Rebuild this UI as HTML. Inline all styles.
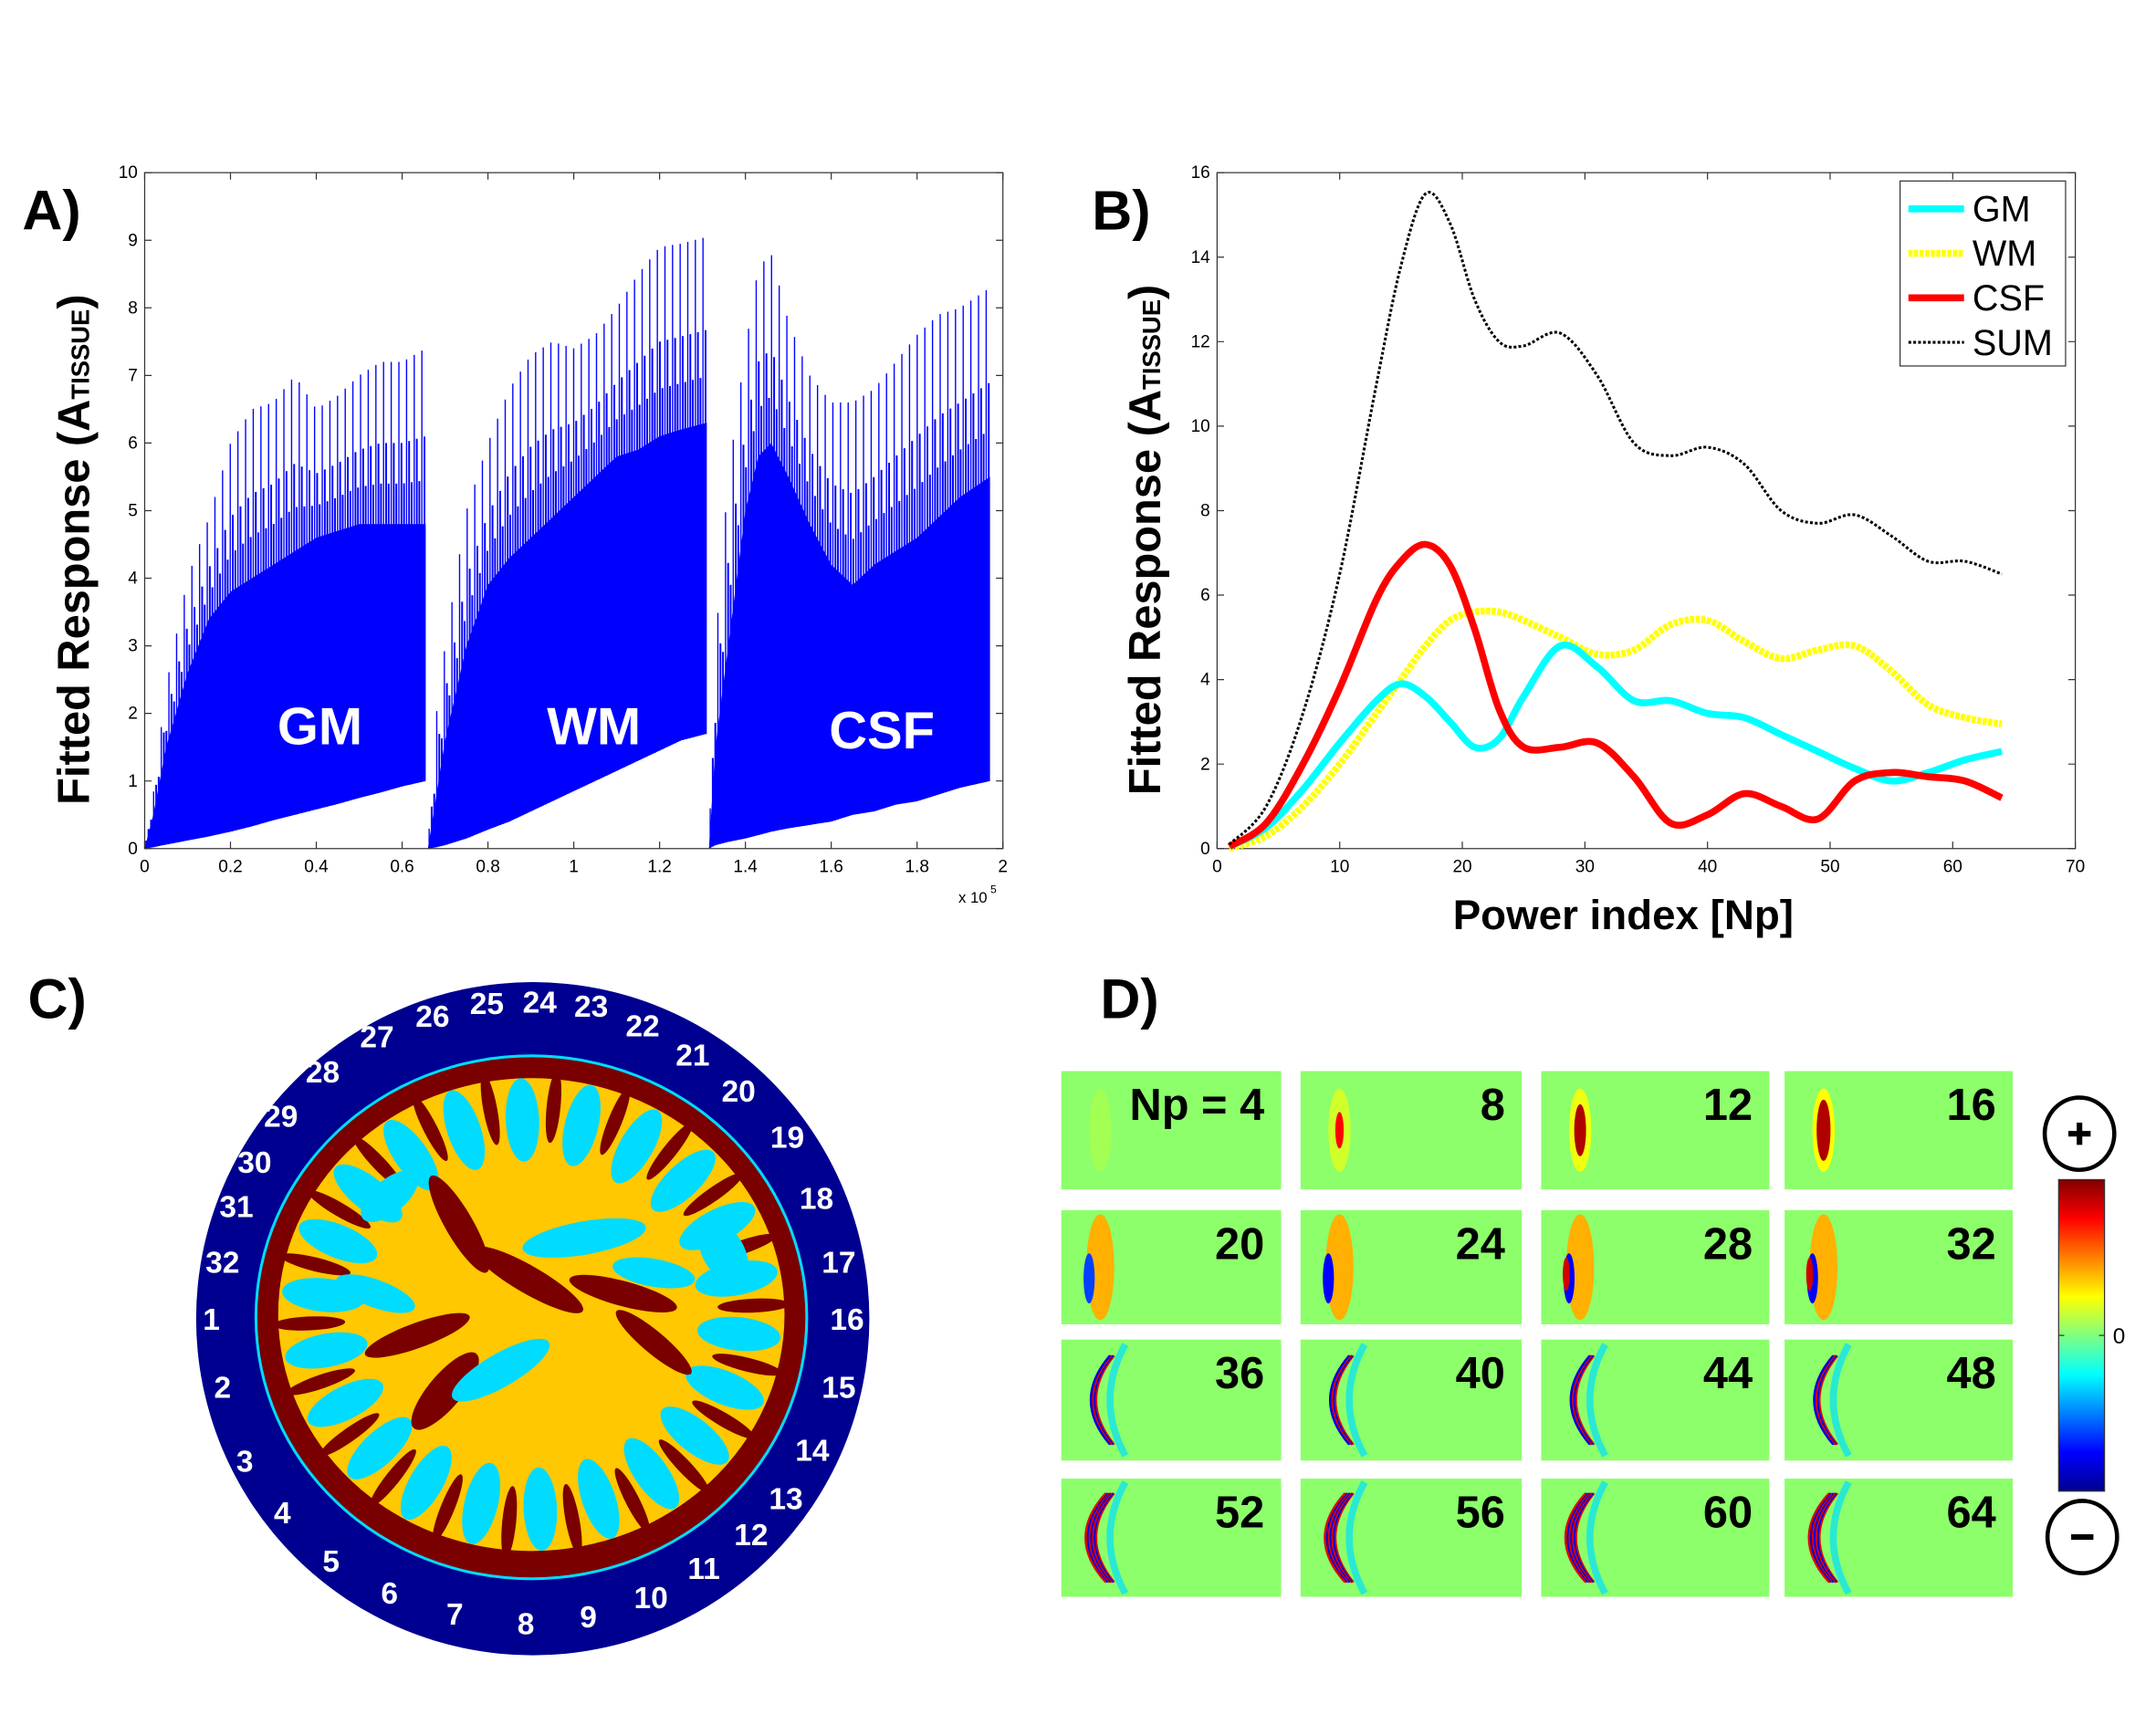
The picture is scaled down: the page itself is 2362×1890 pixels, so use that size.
<!DOCTYPE html>
<html><head><meta charset="utf-8"><style>
html,body{margin:0;padding:0;background:#fff;}
svg{display:block;font-family:"Liberation Sans",Arial,sans-serif;}
</style></head><body>
<svg id="fig" width="2362" height="1890" viewBox="0 0 1550 1240" xmlns="http://www.w3.org/2000/svg">
<rect width="1550" height="1240" fill="#fff"/>
<g id="panelA"></g>
<g id="panelB"></g>
<g id="panelC"></g>
<g id="panelD"></g>
</svg>
<script>
// ---------- Panel A data ----------
const aXTicks = [0,0.2,0.4,0.6,0.8,1,1.2,1.4,1.6,1.8,2];
const aYTicks = [0,1,2,3,4,5,6,7,8,9,10];
const aSegNames = ["GM","WM","CSF"];
const aGmX =   [0,0.02,0.05,0.1,0.15,0.2,0.25,0.3,0.35,0.4,0.45,0.5,0.55,0.6,0.655];
const aGmTop = [0,0.5,1.5,2.6,3.4,3.8,4.0,4.2,4.4,4.6,4.7,4.8,4.8,4.8,4.8];
const aGmSpk = [0,0.8,2.4,4.0,4.9,6.0,6.5,6.6,7.0,6.5,6.7,7.0,7.2,7.2,7.4];
const aGmLow = [0,0.02,0.06,0.12,0.18,0.25,0.33,0.42,0.5,0.58,0.66,0.75,0.83,0.92,1.0];
const aWmX =   [0.66,0.68,0.7,0.75,0.8,0.85,0.9,0.95,1.0,1.05,1.1,1.15,1.2,1.25,1.31];
const aWmTop = [0,0.8,1.6,3.0,3.9,4.3,4.6,4.9,5.2,5.5,5.8,5.9,6.1,6.2,6.3];
const aWmSpk = [0,2.0,3.0,5.0,6.0,6.8,7.3,7.5,7.4,7.6,8.0,8.5,8.9,8.95,9.05];
const aWmLow = [0,0.02,0.05,0.15,0.28,0.4,0.55,0.7,0.85,1.0,1.15,1.3,1.45,1.6,1.7];
const aCsfX =   [1.315,1.33,1.36,1.4,1.43,1.46,1.5,1.55,1.6,1.65,1.7,1.75,1.8,1.85,1.9,1.97];
const aCsfTop = [0,1.5,3.0,5.0,5.8,6.0,5.5,4.8,4.2,3.9,4.2,4.4,4.6,4.9,5.2,5.5];
const aCsfSpk = [0,3.0,5.5,7.4,8.6,8.8,7.8,7.0,6.6,6.6,6.8,7.2,7.6,7.9,8.0,8.3];
const aCsfLow = [0,0.05,0.1,0.15,0.2,0.25,0.3,0.35,0.4,0.5,0.55,0.65,0.7,0.8,0.9,1.0];

// ---------- Panel B data ----------
const bXTicks = [0,10,20,30,40,50,60,70];
const bYTicks = [0,2,4,6,8,10,12,14,16];
const bNp =  [1,4,7,10,13,15,17,19,21,23,25,28,31,34,37,40,43,46,49,52,55,58,61,64];
const bSum = [0.1,1.0,3.2,6.5,11,13.8,15.5,14.8,13.0,12.0,11.9,12.2,11.2,9.6,9.3,9.5,9.1,8.0,7.7,7.9,7.4,6.8,6.8,6.5];
const bGm =  [0.05,0.5,1.4,2.5,3.5,3.9,3.6,3.0,2.4,2.6,3.6,4.8,4.3,3.5,3.5,3.2,3.1,2.7,2.3,1.9,1.6,1.8,2.1,2.3];
const bWm =  [0,0.3,1.0,2.0,3.2,4.0,4.8,5.4,5.6,5.6,5.4,5.0,4.6,4.7,5.3,5.4,4.9,4.5,4.7,4.8,4.2,3.4,3.1,2.95];
const bCsf = [0.05,0.6,2.0,3.8,5.9,6.8,7.2,6.7,5.2,3.3,2.4,2.4,2.5,1.7,0.6,0.8,1.3,1.0,0.7,1.6,1.8,1.7,1.6,1.2];

// ---------- Panel D data ----------
const dNpLabels = ["Np = 4","8","12","16","20","24","28","32","36","40","44","48","52","56","60","64"];

const NS="http://www.w3.org/2000/svg";
function mk(tag,attrs,parent,txt){const e=document.createElementNS(NS,tag);for(const k in attrs)e.setAttribute(k,attrs[k]);if(txt!==undefined)e.textContent=txt;if(parent)parent.appendChild(e);return e;}
function interp(xs,ys,x){for(let i=0;i<xs.length-1;i++){if(x>=xs[i]&&x<=xs[i+1]){const t=(x-xs[i])/(xs[i+1]-xs[i]);return ys[i]+t*(ys[i+1]-ys[i]);}}return ys[ys.length-1];}
function smoothPath(pts){let d="M"+pts[0][0]+","+pts[0][1];for(let i=0;i<pts.length-1;i++){const p0=pts[i-1]||pts[i],p1=pts[i],p2=pts[i+1],p3=pts[i+2]||p2;const c1x=p1[0]+(p2[0]-p0[0])/6,c1y=p1[1]+(p2[1]-p0[1])/6,c2x=p2[0]-(p3[0]-p1[0])/6,c2y=p2[1]-(p3[1]-p1[1])/6;d+=` C${c1x},${c1y} ${c2x},${c2y} ${p2[0]},${p2[1]}`;}return d;}

// ===== Panel A =====
(function(){
const g=document.getElementById('panelA');
const L=104,R=721,T=124,B=610;
const sx=v=>L+(v/2)*(R-L), sy=v=>B-(v/10)*(B-T);
let e;
e=mk('text',{x:16,y:165,'font-size':40,'font-weight':'bold'},g,'A)');

const segs=[[aGmX,aGmTop,aGmSpk,aGmLow],[aWmX,aWmTop,aWmSpk,aWmLow],[aCsfX,aCsfTop,aCsfSpk,aCsfLow]];
segs.forEach((s,si)=>{
  const [xs,top,spk,low]=s;
  const sg=mk('g',{},g);
  
  
  let pts=xs.map((x,i)=>sx(x)+","+sy(top[i]));
  let lowPts=xs.map((x,i)=>sx(x)+","+sy(low[i])).reverse();
  const poly=mk('polygon',{points:pts.concat(lowPts).join(" "),fill:'#0000ff'},sg);
  
  
  const x0=xs[0],x1=xs[xs.length-1];
  const n=110;let d="",d2="";
  for(let k=0;k<n;k++){
    const x=x0+(x1-x0)*(k+0.5)/n;
    const hi=interp(xs,spk,x), mid=interp(xs,top,x), lo=interp(xs,low,x);
    if(k%3===0) d+=`M${sx(x)},${sy(lo)}V${sy(hi)}`;
    else d2+=`M${sx(x)},${sy(lo)}V${sy(mid+(hi-mid)*(k%3===1?0.5:0.25))}`;
  }
  const sp=mk('path',{d:d,stroke:'#0000ff','stroke-width':0.9,fill:'none'},sg);
  
  
  const sp2=mk('path',{d:d2,stroke:'#0000ff','stroke-width':1.3,fill:'none'},sg);
  
  
});
mk('rect',{x:L,y:T,width:R-L,height:B-T,fill:'none',stroke:'#333','stroke-width':0.8},g);
aXTicks.forEach(v=>{const x=sx(v);mk('path',{d:`M${x},${B}v-5M${x},${T}v5`,stroke:'#333','stroke-width':0.8},g);
  const t=mk('text',{x:x,y:B+17,'font-size':12.5,'text-anchor':'middle'},g,String(v));});
aYTicks.forEach(v=>{const y=sy(v);mk('path',{d:`M${L},${y}h5M${R},${y}h-5`,stroke:'#333','stroke-width':0.8},g);
  const t=mk('text',{x:L-5,y:y+4,'font-size':12.5,'text-anchor':'end'},g,String(v));});
e=mk('text',{x:689,y:649,'font-size':11},g,'x 10');
mk('text',{x:712,y:642,'font-size':8},g,'5');
e=mk('text',{transform:'translate(64,395) rotate(-90)','font-size':32,'font-weight':'bold','text-anchor':'middle'},g);

e.innerHTML='Fitted Response (A<tspan font-size="18" dy="0">TISSUE</tspan>)';
[['GM',230,535],['WM',427,535],['CSF',634,538]].forEach(a=>{const t=mk('text',{x:a[1],y:a[2],'font-size':38,'font-weight':'bold',fill:'#fff','text-anchor':'middle'},g,a[0]);});
})();

// ===== Panel B =====
(function(){
const g=document.getElementById('panelB');
const L=875,R=1492,T=124,B=610;
const sx=v=>L+(v/70)*(R-L), sy=v=>B-(v/16)*(B-T);
let e=mk('text',{x:785,y:165,'font-size':40,'font-weight':'bold'},g,'B)');

mk('rect',{x:L,y:T,width:R-L,height:B-T,fill:'none',stroke:'#333','stroke-width':0.8},g);
bXTicks.forEach(v=>{const x=sx(v);mk('path',{d:`M${x},${B}v-5M${x},${T}v5`,stroke:'#333','stroke-width':0.8},g);
  const t=mk('text',{x:x,y:B+17,'font-size':12.5,'text-anchor':'middle'},g,String(v));});
bYTicks.forEach(v=>{const y=sy(v);mk('path',{d:`M${L},${y}h5M${R},${y}h-5`,stroke:'#333','stroke-width':0.8},g);
  const t=mk('text',{x:L-5,y:y+4,'font-size':12.5,'text-anchor':'end'},g,String(v));});
const series=[[bWm,'#ffff00',5,'3 1','wm'],[bGm,'#00ffff',5,null,'gm'],[bCsf,'#ff0000',5,null,'csf'],[bSum,'#000',2,'2 1.5','sum']];
series.forEach(s=>{const pts=bNp.map((x,i)=>[sx(x),sy(s[0][i])]);
  const p=mk('path',{d:smoothPath(pts),fill:'none',stroke:s[1],'stroke-width':s[2]},g);
  if(s[3])p.setAttribute('stroke-dasharray',s[3]);
  });
e=mk('text',{x:1167,y:668,'font-size':30,'font-weight':'bold','text-anchor':'middle'},g,'Power index [Np]');

e=mk('text',{transform:'translate(834,388) rotate(-90)','font-size':32,'font-weight':'bold','text-anchor':'middle'},g);

e.innerHTML='Fitted Response (A<tspan font-size="18">TISSUE</tspan>)';
const lg=mk('g',{},g);
mk('rect',{x:1366,y:130,width:119,height:133,fill:'#fff',stroke:'#333','stroke-width':0.8},lg);
[['GM','#00ffff',5,null],['WM','#ffff00',5,'3 1'],['CSF','#ff0000',5,null],['SUM','#000',2,'2 1.5']].forEach((l,i)=>{
  const y=150+i*32;const ln=mk('path',{d:`M1372,${y}h40`,stroke:l[1],'stroke-width':l[2]},lg);if(l[3])ln.setAttribute('stroke-dasharray',l[3]);
  const t=mk('text',{x:1418,y:y+9,'font-size':26},lg,l[0]);});
})();

// ===== Panel C =====
(function(){
const g=document.getElementById('panelC');
let e=mk('text',{x:20,y:732,'font-size':40,'font-weight':'bold'},g,'C)');

e=mk('circle',{cx:383,cy:948,r:242,fill:'#000090'},g);
const br=mk('g',{},g);
mk('ellipse',{cx:382,cy:947,rx:199,ry:189,fill:'#00dcff'},br);
mk('ellipse',{cx:382,cy:947,rx:197,ry:187,fill:'#7a0000'},br);
mk('ellipse',{cx:382,cy:945,rx:182,ry:170,fill:'#ffc800'},br);
for(let i=0;i<22;i++){const a=i/22*Math.PI*2+0.1;const cx=382+Math.cos(a)*150,cy=945+Math.sin(a)*140;
  mk('ellipse',{cx:cx,cy:cy,rx:30,ry:12,fill:'#00dcff',transform:`rotate(${a*180/Math.PI} ${cx} ${cy})`},br);
  const a2=a+Math.PI/22;const cx2=382+Math.cos(a2)*160,cy2=945+Math.sin(a2)*150;
  mk('ellipse',{cx:cx2,cy:cy2,rx:26,ry:5,fill:'#7a0000',transform:`rotate(${a2*180/Math.PI} ${cx2} ${cy2})`},br);}
mk('ellipse',{cx:382,cy:945,rx:118,ry:105,fill:'#ffc800'},br);
[[330,880,40,10,60],[448,930,40,9,15],[320,1000,35,12,-50],[380,920,45,10,30],[470,965,35,8,40],[300,960,40,9,-20]].forEach(b=>mk('ellipse',{cx:b[0],cy:b[1],rx:b[2],ry:b[3],fill:'#7a0000',transform:`rotate(${b[4]} ${b[0]} ${b[1]})`},br));
[[420,890,45,12,-10],[360,985,40,12,-30],[470,915,30,10,10],[270,930,30,10,20],[520,900,25,15,60],[280,860,25,12,-40]].forEach(b=>mk('ellipse',{cx:b[0],cy:b[1],rx:b[2],ry:b[3],fill:'#00dcff',transform:`rotate(${b[4]} ${b[0]} ${b[1]})`},br));
const pos=[[152,948],[160,997],[176,1050],[203,1087],[238,1122],[280,1145],[327,1160],[378,1167],[423,1162],[468,1148],[506,1127],[540,1103],[565,1077],[584,1042],[603,997],[609,948],[603,907],[587,861],[566,817],[531,784],[498,758],[462,737],[425,723],[388,720],[350,721],[311,730],[271,745],[232,770],[202,802],[183,835],[170,867],[160,907]];
pos.forEach((p,i)=>{const t=mk('text',{x:p[0],y:p[1]+8,'font-size':22,'font-weight':'bold',fill:'#fff','text-anchor':'middle'},g,String(i+1));
  });
})();

// ===== Panel D =====
(function(){
const g=document.getElementById('panelD');
let e=mk('text',{x:791,y:732,'font-size':40,'font-weight':'bold'},g,'D)');

const defs=mk('defs',{},g);
const lgd=mk('linearGradient',{id:'jet',x1:0,y1:1,x2:0,y2:0},defs);
[[0,'#00008f'],[0.125,'#0000ff'],[0.375,'#00ffff'],[0.5,'#80ff80'],[0.625,'#ffff00'],[0.875,'#ff0000'],[1,'#800000']].forEach(s=>mk('stop',{offset:s[0],'stop-color':s[1]},lgd));
const cols=[[763,158],[935,159],[1108,164],[1283,164]];
const rows=[[770,85],[870,82],[963,87],[1063,85]];
dNpLabels.forEach((lab,i)=>{
  const c=cols[i%4],r=rows[Math.floor(i/4)];
  const tg=mk('g',{},g);
  mk('rect',{x:c[0],y:r[0],width:c[1],height:r[1],fill:'#8cff6a'},tg);
  const bx=c[0]+(i<4?28:22), cy=r[0]+r[1]/2;
  if(i<4){const s=[0.2,0.6,0.85,1][i];
    mk('ellipse',{cx:bx,cy:cy,rx:8,ry:30,fill:'#ffff00',opacity:s},tg);
    if(i>0)mk('ellipse',{cx:bx,cy:cy,rx:5*s,ry:22*s,fill:i>1?'#b00000':'#ff0000'},tg);
  }else if(i<8){
    mk('ellipse',{cx:bx+6,cy:cy,rx:10,ry:38,fill:'#ffb000'},tg);
    mk('ellipse',{cx:bx-2,cy:cy+8,rx:4,ry:18,fill:i>4?'#0000ff':'#0040ff'},tg);
    if(i>5)mk('ellipse',{cx:bx-4,cy:cy+5,rx:2.5,ry:12,fill:'#d00000'},tg);
  }else{
    mk('path',{d:`M${bx+24},${cy-40} Q${bx+2},${cy} ${bx+24},${cy+40}`,fill:'none',stroke:'#00e0ff','stroke-width':5,opacity:0.7},tg);
    const nArc=i<12?4:7;
    for(let k=0;k<nArc;k++){
      mk('path',{d:`M${bx+16-k},${cy-32} Q${bx-10-k*1.5},${cy} ${bx+16-k},${cy+32}`,fill:'none',stroke:k%2?'#0000e0':'#e00000','stroke-width':1.6},tg);}
  }
  const t=mk('text',{x:c[0]+c[1]-12,y:r[0]+35,'font-size':32,'font-weight':'bold','text-anchor':'end'},tg,lab);
  
});
e=mk('rect',{x:1480,y:848,width:33,height:224,fill:'url(#jet)',stroke:'#333','stroke-width':0.8},g);

mk('path',{d:'M1513,960h-4M1480,960h4',stroke:'#333','stroke-width':0.8},g);
e=mk('text',{x:1519,y:966,'font-size':16},g,'0');
e=mk('ellipse',{cx:1495,cy:815,rx:25,ry:26,fill:'#fff',stroke:'#000','stroke-width':3},g);
mk('path',{d:'M1487,815h16M1495,807v16',stroke:'#000','stroke-width':4},g);
e=mk('ellipse',{cx:1497,cy:1105,rx:25,ry:26,fill:'#fff',stroke:'#000','stroke-width':3},g);
mk('path',{d:'M1489,1105h16',stroke:'#000','stroke-width':4},g);
})();
</script>
</body></html>
